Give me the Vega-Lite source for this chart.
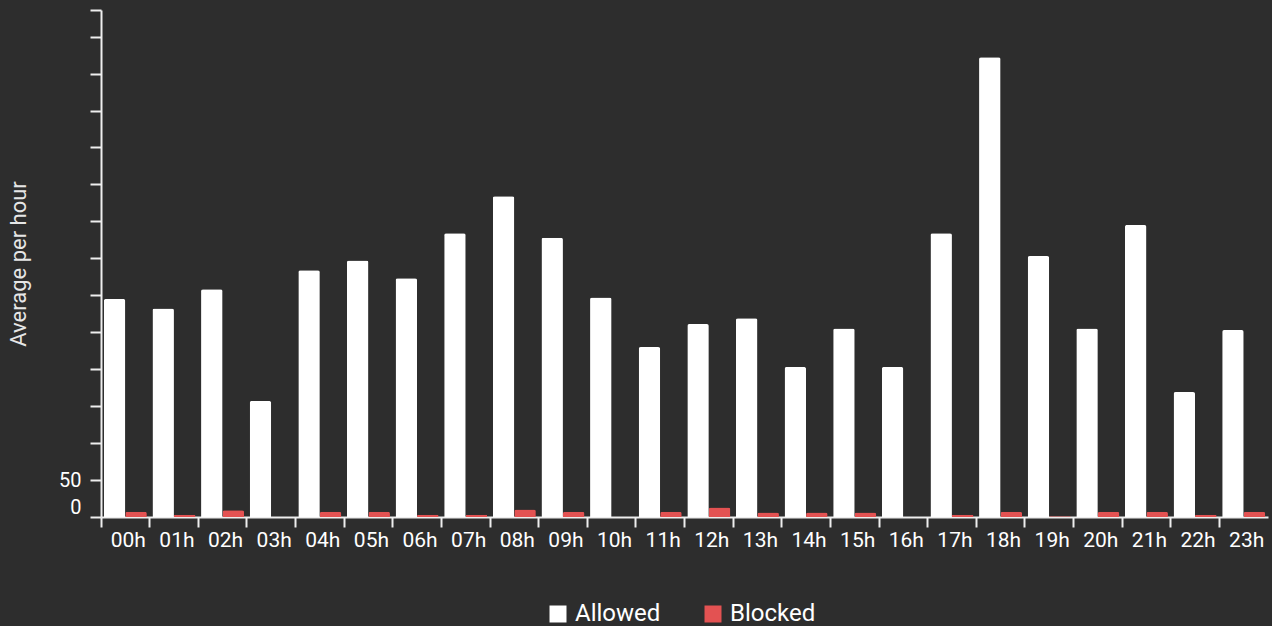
{
  "$schema": "https://vega.github.io/schema/vega-lite/v6.json",
  "autosize": {"type": "none"},
  "width": 1167,
  "height": 507,
  "padding": {"left": 101, "top": 10, "right": 4, "bottom": 109},
  "background": "#2d2d2d",
  "config": {
    "view": {"stroke": null},
    "font": "Roboto",
    "axis": {"grid": false}
  },
  "data": {
    "values": [
      {"hour": "00h", "type": "Allowed", "value": 295}, {"hour": "00h", "type": "Blocked", "value": 7},
      {"hour": "01h", "type": "Allowed", "value": 282}, {"hour": "01h", "type": "Blocked", "value": 3},
      {"hour": "02h", "type": "Allowed", "value": 308}, {"hour": "02h", "type": "Blocked", "value": 9},
      {"hour": "03h", "type": "Allowed", "value": 157}, {"hour": "03h", "type": "Blocked", "value": 0},
      {"hour": "04h", "type": "Allowed", "value": 334}, {"hour": "04h", "type": "Blocked", "value": 7},
      {"hour": "05h", "type": "Allowed", "value": 347}, {"hour": "05h", "type": "Blocked", "value": 7},
      {"hour": "06h", "type": "Allowed", "value": 323}, {"hour": "06h", "type": "Blocked", "value": 3},
      {"hour": "07h", "type": "Allowed", "value": 384}, {"hour": "07h", "type": "Blocked", "value": 3},
      {"hour": "08h", "type": "Allowed", "value": 434}, {"hour": "08h", "type": "Blocked", "value": 10},
      {"hour": "09h", "type": "Allowed", "value": 378}, {"hour": "09h", "type": "Blocked", "value": 7},
      {"hour": "10h", "type": "Allowed", "value": 297}, {"hour": "10h", "type": "Blocked", "value": 0},
      {"hour": "11h", "type": "Allowed", "value": 230}, {"hour": "11h", "type": "Blocked", "value": 7},
      {"hour": "12h", "type": "Allowed", "value": 261}, {"hour": "12h", "type": "Blocked", "value": 13},
      {"hour": "13h", "type": "Allowed", "value": 269}, {"hour": "13h", "type": "Blocked", "value": 6},
      {"hour": "14h", "type": "Allowed", "value": 203}, {"hour": "14h", "type": "Blocked", "value": 6},
      {"hour": "15h", "type": "Allowed", "value": 255}, {"hour": "15h", "type": "Blocked", "value": 6},
      {"hour": "16h", "type": "Allowed", "value": 203}, {"hour": "16h", "type": "Blocked", "value": 0},
      {"hour": "17h", "type": "Allowed", "value": 384}, {"hour": "17h", "type": "Blocked", "value": 3},
      {"hour": "18h", "type": "Allowed", "value": 622}, {"hour": "18h", "type": "Blocked", "value": 7},
      {"hour": "19h", "type": "Allowed", "value": 353}, {"hour": "19h", "type": "Blocked", "value": 1},
      {"hour": "20h", "type": "Allowed", "value": 255}, {"hour": "20h", "type": "Blocked", "value": 7},
      {"hour": "21h", "type": "Allowed", "value": 395}, {"hour": "21h", "type": "Blocked", "value": 7},
      {"hour": "22h", "type": "Allowed", "value": 169}, {"hour": "22h", "type": "Blocked", "value": 3},
      {"hour": "23h", "type": "Allowed", "value": 253}, {"hour": "23h", "type": "Blocked", "value": 7}
    ]
  },
  "mark": {"type": "bar", "cornerRadiusTopLeft": 2, "cornerRadiusTopRight": 2},
  "encoding": {
    "x": {
      "field": "hour",
      "type": "nominal",
      "scale": {"paddingInner": 0, "paddingOuter": 0},
      "axis": {
        "title": null,
        "labelAngle": 0,
        "bandPosition": 0,
        "labelOffset": 3,
        "labelColor": "#ffffff",
        "labelFontSize": 21,
        "labelPadding": 2,
        "tickSize": 10,
        "tickWidth": 2,
        "tickColor": "#eeeeee",
        "domainColor": "#eeeeee",
        "domainWidth": 2
      }
    },
    "xOffset": {
      "field": "type",
      "type": "nominal",
      "scale": {"paddingInner": 0, "paddingOuter": 0.13}
    },
    "y": {
      "field": "value",
      "type": "quantitative",
      "scale": {"domain": [0, 686], "nice": false},
      "axis": {
        "title": "Average per hour",
        "titleColor": "#e6e6e6",
        "titleFontSize": 22,
        "titleFontWeight": "normal",
        "titlePadding": 28,
        "values": [0, 50, 100, 150, 200, 250, 300, 350, 400, 450, 500, 550, 600, 650, 686],
        "labelExpr": "datum.value <= 50 ? datum.label : ''",
        "labelFlush": true,
        "labelColor": "#ffffff",
        "labelFontSize": 20,
        "labelPadding": 9,
        "tickSize": 11,
        "tickWidth": 2,
        "tickColor": "#eeeeee",
        "domainColor": "#eeeeee",
        "domainWidth": 2
      }
    },
    "color": {
      "field": "type",
      "type": "nominal",
      "scale": {"domain": ["Allowed", "Blocked"], "range": ["#ffffff", "#e35252"]},
      "legend": {
        "title": null,
        "orient": "none",
        "direction": "horizontal",
        "legendX": 445,
        "legendY": 592,
        "symbolType": "square",
        "symbolSize": 289,
        "symbolStrokeWidth": 0,
        "symbolOpacity": 1,
        "labelColor": "#ffffff",
        "labelFontSize": 24,
        "labelOffset": 5,
        "columnPadding": 40
      }
    }
  }
}
